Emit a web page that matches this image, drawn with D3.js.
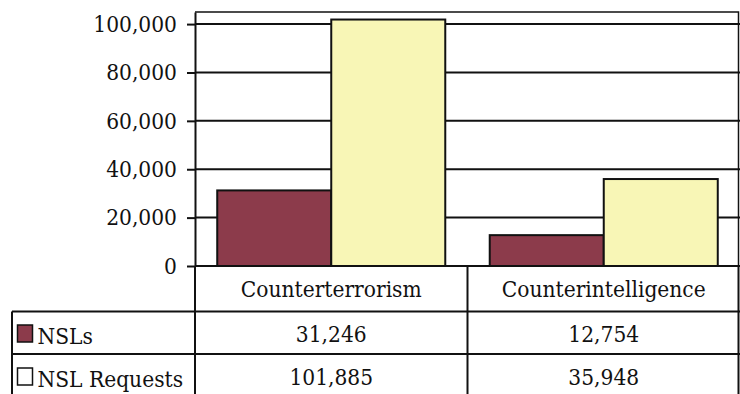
<!DOCTYPE html>
<html>
<head>
<meta charset="utf-8">
<script src="https://cdn.jsdelivr.net/npm/d3@7"></script>
<style>
  html, body { margin: 0; padding: 0; background: #fff; }
  svg { display: block; }
  text { font-family: "DejaVu Serif Condensed", "DejaVu Serif", serif; font-stretch: condensed; fill: #111; }
</style>
</head>
<body>
<svg id="chart" width="740" height="394"></svg>
<script>
// Values
const categories = ["Counterterrorism", "Counterintelligence"];
const seriesNames = ["NSLs", "NSL Requests"];
const nslValues = [31246, 12754];
const nslRequestValues = [101885, 35948];
const yTickValues = [0, 20000, 40000, 60000, 80000, 100000];
const seriesColors = ["#8c3b4b", "#f8f6b6"];

const seriesValues = [nslValues, nslRequestValues];
const fmt = d3.format(",");
const ink = "#111";
const fontSize = 22.5;

// Layout
const plot = { left: 195, right: 740, top: 12, bottom: 266 };
const table = { left: 12, headerBottom: 311.5, rowBottom: 354, bottom: 396, right: 738.5 };

const svg = d3.select("#chart");

const x = d3.scaleBand().domain(categories).range([plot.left, plot.right]);
const xs = d3.scaleBand().domain(seriesNames).range([0, x.bandwidth()]).paddingOuter(0.195);
const y = d3.scaleLinear().domain([0, 105000]).range([plot.bottom, plot.top]);

const groups = categories.map((c, i) => ({
  category: c,
  values: seriesNames.map((s, j) => ({ series: s, value: seriesValues[j][i], color: seriesColors[j] }))
}));

// Gridlines
svg.append("g")
  .selectAll("line")
  .data(yTickValues.filter(d => d > 0))
  .join("line")
  .attr("x1", plot.left).attr("x2", plot.right)
  .attr("y1", d => y(d)).attr("y2", d => y(d))
  .attr("stroke", ink).attr("stroke-width", 2);

// Plot frame (top and right)
svg.append("path")
  .attr("d", `M${plot.left},${y.range()[1]}H${table.right}V${plot.bottom}`)
  .attr("fill", "none").attr("stroke", ink).attr("stroke-width", 1.5);

// Bars
svg.append("g")
  .selectAll("g")
  .data(groups)
  .join("g")
  .attr("transform", d => `translate(${x(d.category)},0)`)
  .selectAll("rect")
  .data(d => d.values)
  .join("rect")
  .attr("x", d => xs(d.series))
  .attr("width", xs.bandwidth())
  .attr("y", d => y(d.value))
  .attr("height", d => y(0) - y(d.value))
  .attr("fill", d => d.color)
  .attr("stroke", ink).attr("stroke-width", 2);

// Y axis
svg.append("g")
  .attr("transform", `translate(${plot.left},0)`)
  .call(d3.axisLeft(y).tickValues(yTickValues).tickFormat(fmt).tickSize(8).tickPadding(10).tickSizeOuter(0))
  .attr("font-family", null).attr("font-size", null)
  .call(g => g.select(".domain").attr("stroke", ink).attr("stroke-width", 2))
  .call(g => g.selectAll(".tick line").attr("stroke", ink).attr("stroke-width", 2))
  .call(g => g.selectAll(".tick text").attr("fill", ink).attr("font-size", fontSize));

// Data table grid
const tableLines = [
  [plot.left, plot.bottom, plot.right, plot.bottom],
  [table.left, table.headerBottom, plot.right, table.headerBottom],
  [table.left, table.rowBottom, plot.right, table.rowBottom],
  [table.left, table.headerBottom, table.left, table.bottom],
  [plot.left, plot.bottom, plot.left, table.bottom],
  [x(categories[1]), plot.bottom, x(categories[1]), table.bottom],
  [table.right, plot.bottom, table.right, table.bottom]
];
svg.append("g")
  .selectAll("line")
  .data(tableLines)
  .join("line")
  .attr("x1", d => d[0]).attr("y1", d => d[1])
  .attr("x2", d => d[2]).attr("y2", d => d[3])
  .attr("stroke", ink).attr("stroke-width", 2);

// Category header row
svg.append("g")
  .selectAll("text")
  .data(categories)
  .join("text")
  .attr("x", d => x(d) + x.bandwidth() / 2)
  .attr("y", 297)
  .attr("text-anchor", "middle")
  .attr("font-size", fontSize)
  .text(d => d);

// Series rows: legend key, name, values
const rowBaselines = [342, 385];
const rowG = svg.append("g")
  .selectAll("g")
  .data(seriesNames.map((s, j) => ({ name: s, color: seriesColors[j], values: seriesValues[j], baseline: rowBaselines[j] })))
  .join("g");

rowG.append("rect")
  .attr("x", 17.5)
  .attr("y", d => d.baseline - 17)
  .attr("width", 15)
  .attr("height", 17)
  .attr("fill", (d, j) => j === 0 ? d.color : "#fff")
  .attr("stroke", ink).attr("stroke-width", 1.5);

rowG.append("text")
  .attr("x", 37.5)
  .attr("y", d => d.baseline + 2)
  .attr("font-size", fontSize)
  .text(d => d.name);

rowG.selectAll(".val")
  .data(d => d.values.map((v, i) => ({ v, c: categories[i], baseline: d.baseline })))
  .join("text")
  .attr("class", "val")
  .attr("x", d => x(d.c) + x.bandwidth() / 2)
  .attr("y", d => d.baseline)
  .attr("text-anchor", "middle")
  .attr("font-size", fontSize)
  .text(d => fmt(d.v));
</script>
</body>
</html>
